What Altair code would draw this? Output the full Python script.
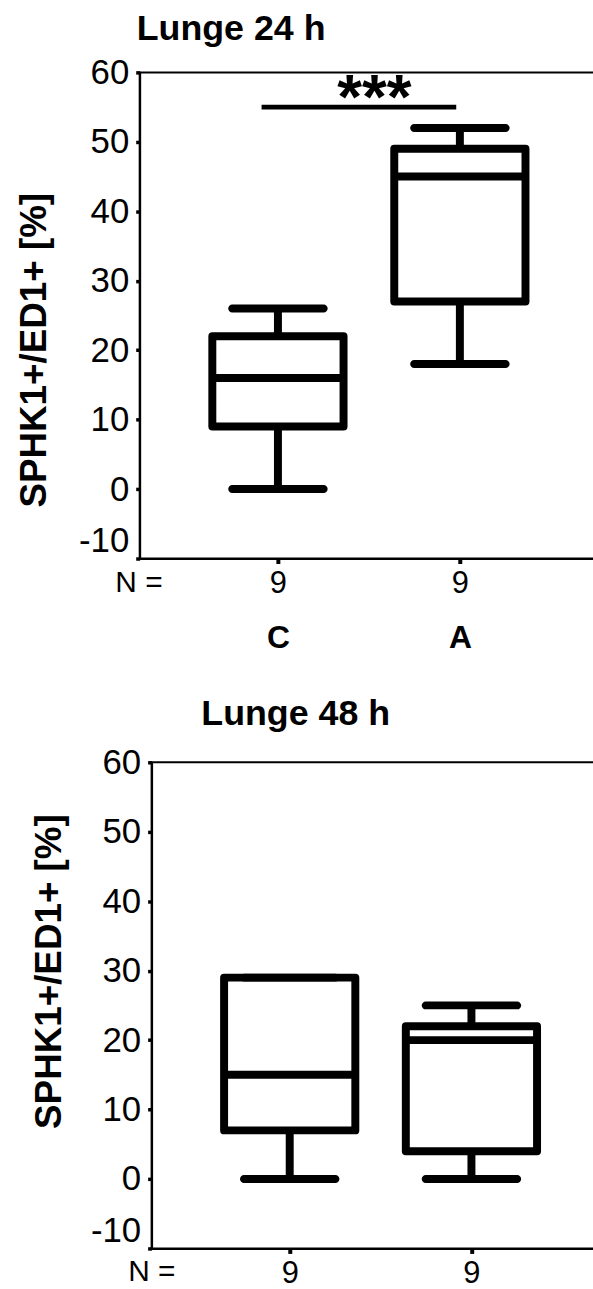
import altair as alt
import pandas as pd

FONT = "Liberation Sans"

groups = ["C", "A"]
group_pos = [1, 2]
n_per_group = [9, 9]

low_24h = [0, 18]
q1_24h = [9, 27]
median_24h = [16, 45]
q3_24h = [22, 49]
high_24h = [26, 52]

low_48h = [0, 0]
q1_48h = [7, 4]
median_48h = [15, 20]
q3_48h = [29, 22]
high_48h = [29, 25]

sig_from = [0.91]
sig_to = [1.98]
sig_level = [55]
sig_text = ["***"]
sig_text_pos = [1.53]

y_ticks = [-10, 0, 10, 20, 30, 40, 50, 60]
y_title = "SPHK1+/ED1+ [%]"

PX_PER_GROUP = 187
LEFT_GAP = 137
PLOT_H = 489


def expr_map(values, labels):
    s = "''"
    for v, l in reversed(list(zip(values, labels))):
        s = f"datum.value == {v} ? '{l}' : ({s})"
    return s


def panel(title, low, q1, med, q3, high, width, title_dx, title_offset,
          ytitle_x, ytitle_y, ntitle_x, ntitle_y, group_row, sig):
    df = pd.DataFrame({"group": groups, "pos": group_pos, "low": low, "q1": q1,
                       "median": med, "q3": q3, "high": high})
    x0 = 1 - LEFT_GAP / PX_PER_GROUP
    xscale = alt.Scale(domain=[x0, x0 + width / PX_PER_GROUP], nice=False, zero=False)
    yscale = alt.Scale(domain=[-10, 60], nice=False, zero=False)
    xaxis = alt.Axis(orient="bottom", values=group_pos,
                     labelExpr=expr_map(group_pos, n_per_group),
                     title="N =", titleFont=FONT, titleFontSize=30, titleFontWeight="normal",
                     titleX=ntitle_x, titleY=ntitle_y, titleAlign="left",
                     titleBaseline="alphabetic", titleColor="black",
                     labelFont=FONT, labelFontSize=31, labelColor="black", labelPadding=5,
                     tickSize=5, tickWidth=4, tickColor="black",
                     domainColor="black", domainWidth=2, grid=False, labelAngle=0)
    yaxis = alt.Axis(values=y_ticks, title=y_title, titleFont=FONT, titleFontSize=37,
                     titleFontWeight="bold", titleAngle=270, titleAlign="center",
                     titleBaseline="alphabetic", titleX=ytitle_x, titleY=ytitle_y,
                     titleColor="black", labelExpr="'' + datum.value",
                     labelFont=FONT, labelFontSize=35, labelColor="black", labelPadding=7,
                     labelBaseline={"condition": {"test": "datum.value == -10", "value": "bottom"},
                                    "value": "middle"},
                     tickSize=4, tickWidth=3.5, tickColor="black",
                     domainColor="black", domainWidth=2, grid=False)
    base = alt.Chart(df)
    whisk = base.mark_rule(color="black", strokeWidth=8).encode(
        x=alt.X("pos:Q", scale=xscale, axis=xaxis),
        y=alt.Y("low:Q", scale=yscale, axis=yaxis), y2="high:Q")
    box = base.mark_bar(size=132, fill="white", stroke="black", strokeWidth=8,
                        strokeJoin="round").encode(
        x=alt.X("pos:Q", axis=None), y=alt.Y("q1:Q"), y2="q3:Q")
    cap_low = base.mark_tick(orient="horizontal", size=100, thickness=8, cornerRadius=4,
                             color="black", opacity=1).encode(
        x=alt.X("pos:Q", axis=None), y=alt.Y("low:Q"))
    cap_high = base.mark_tick(orient="horizontal", size=100, thickness=8, cornerRadius=4,
                              color="black", opacity=1).encode(
        x=alt.X("pos:Q", axis=None), y=alt.Y("high:Q"))
    med_mark = base.mark_tick(orient="horizontal", size=132, thickness=8,
                              color="black", opacity=1).encode(
        x=alt.X("pos:Q", axis=None), y=alt.Y("median:Q"))
    layers = [whisk, box, cap_low, cap_high, med_mark]
    if sig:
        sdf = pd.DataFrame({"x1": sig_from, "x2": sig_to, "y": sig_level,
                            "label": sig_text, "lx": sig_text_pos})
        sbase = alt.Chart(sdf)
        layers.append(sbase.mark_rule(color="black", strokeWidth=5).encode(
            x=alt.X("x1:Q", axis=None), x2="x2:Q", y=alt.Y("y:Q")))
        layers.append(sbase.mark_text(font=FONT, fontSize=64, fontWeight="bold",
                                      color="black", baseline="alphabetic", dy=11).encode(
            x=alt.X("lx:Q", axis=None), y=alt.Y("y:Q"), text="label:N"))
    if group_row:
        gaxis = alt.Axis(orient="bottom", values=group_pos,
                         labelExpr=expr_map(group_pos, groups),
                         title=None, domain=False, ticks=False, grid=False,
                         labelFont=FONT, labelFontSize=32, labelFontWeight="bold",
                         labelColor="black", labelPadding=0, offset=65, labelAngle=0)
        layers.append(base.mark_tick(opacity=0).encode(
            x=alt.X("pos:Q", axis=gaxis), y=alt.Y("median:Q")))
    ch = alt.layer(*layers).resolve_axis(x="independent")
    return ch.properties(
        width=width, height=PLOT_H,
        title=alt.TitleParams(title, font=FONT, fontSize=36, fontWeight="bold",
                              color="black", anchor="start", frame="group",
                              dx=title_dx, offset=title_offset, baseline="alphabetic"))


top = panel("Lunge 24 h", low_24h, q1_24h, median_24h, q3_24h, high_24h,
            width=469, title_dx=-3, title_offset=-20,
            ytitle_x=-94.5, ytitle_y=279, ntitle_x=-25, ntitle_y=33,
            group_row=True, sig=True)
bottom = panel("Lunge 48 h", low_48h, q1_48h, median_48h, q3_48h, high_48h,
               width=445, title_dx=50, title_offset=-15,
               ytitle_x=-91.4, ytitle_y=210, ntitle_x=-24, ntitle_y=32,
               group_row=False, sig=False)

chart = alt.vconcat(top, bottom, spacing=40, center=True).configure_view(
    stroke="black", strokeWidth=2).properties(
    padding={"left": 14.5, "top": 6, "right": -14, "bottom": 0}, background="white")

chart.save("out.html", embed_options={"renderer": "svg", "actions": False})
